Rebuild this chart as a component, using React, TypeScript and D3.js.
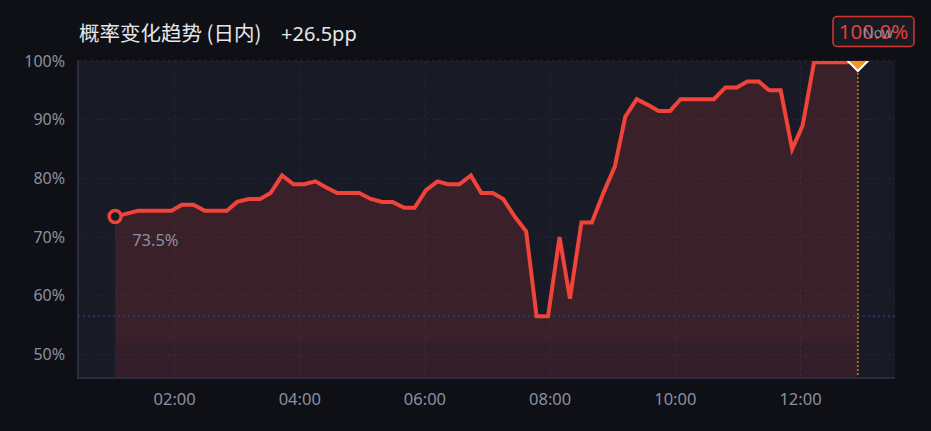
import React from 'react';
import * as d3 from 'd3';

// intraday samples
const times = [
  '01:03', '01:14', '01:25', '01:35', '01:46', '01:57', '02:07', '02:18', '02:29', '02:39',
  '02:50', '03:00', '03:11', '03:22', '03:32', '03:43', '03:54', '04:04', '04:15', '04:25',
  '04:36', '04:47', '04:57', '05:08', '05:19', '05:29', '05:40', '05:50', '06:01', '06:12',
  '06:22', '06:33', '06:44', '06:54', '07:05', '07:15', '07:26', '07:37', '07:47', '07:58',
  '08:09', '08:19', '08:30', '08:40', '08:51', '09:02', '09:12', '09:23', '09:34', '09:44',
  '09:55', '10:05', '10:16', '10:27', '10:37', '10:48', '10:59', '11:09', '11:20', '11:30',
  '11:41', '11:52', '12:02', '12:13', '12:24', '12:34', '12:45', '12:55',
];
const probs = [
  73.5, 74.0, 74.5, 74.5, 74.5, 74.5, 75.5, 75.5, 74.5, 74.5,
  74.5, 76.0, 76.5, 76.5, 77.5, 80.5, 79.0, 79.0, 79.5, 78.5,
  77.5, 77.5, 77.5, 76.5, 76.0, 76.0, 75.0, 75.0, 78.0, 79.5,
  79.0, 79.0, 80.5, 77.5, 77.5, 76.5, 73.5, 71.0, 56.5, 56.5,
  70.0, 59.5, 72.5, 72.5, 77.5, 82.0, 90.5, 93.5, 92.5, 91.5,
  91.5, 93.5, 93.5, 93.5, 93.5, 95.5, 95.5, 96.5, 96.5, 95.0,
  95.0, 85.0, 89.0, 99.8, 99.8, 99.8, 99.8, 100.0,
];
const xTickLabels = ['02:00', '04:00', '06:00', '08:00', '10:00', '12:00'];
const yTicks = [50, 60, 70, 80, 90, 100];
const yFloor = 46;
const bandFloor = 52;
const title = '概率变化趋势 (日内)';
const nowLabel = 'Now';

const W = 931;
const H = 431;
const margin = { top: 61, right: 36, bottom: 53, left: 78 };
const font = "'Noto Sans', 'Noto Sans CJK SC', sans-serif";

const toMin = (s: string) => {
  const [h, m] = s.split(':').map(Number);
  return h * 60 + m;
};

export default function App() {
  const data = times.map((t, i) => ({ t: toMin(t), v: probs[i] }));
  const t0 = data[0].t;
  const t1 = data[data.length - 1].t;
  const pad = (t1 - t0) * 0.05;

  const x = d3.scaleLinear()
    .domain([t0 - pad, t1 + pad])
    .range([margin.left, W - margin.right]);
  const y = d3.scaleLinear()
    .domain([yFloor, 100])
    .range([H - margin.bottom, margin.top]);

  const line = d3.line<{ t: number; v: number }>().x(d => x(d.t)).y(d => y(d.v));
  const area = d3.area<{ t: number; v: number }>().x(d => x(d.t)).y0(y(yFloor)).y1(d => y(d.v));
  const band = d3.area<{ t: number; v: number }>().x(d => x(d.t)).y0(y(bandFloor)).y1(d => y(d.v));

  const first = data[0];
  const last = data[data.length - 1];
  const minV = d3.min(probs) as number;
  const change = last.v - first.v;

  const px0 = margin.left;
  const px1 = W - margin.right;
  const py0 = margin.top;
  const py1 = H - margin.bottom;

  const diamond = d3.symbol(d3.symbolSquare, 200)();

  return (
    <div style={{ position: 'fixed', left: 0, top: 0, width: W, height: H, background: '#0f1015' }}>
      <svg width={W} height={H} style={{ display: 'block' }} fontFamily={font}>
        <defs>
          <clipPath id="plot">
            <rect x={px0} y={py0} width={px1 - px0} height={py1 - py0} />
          </clipPath>
        </defs>

        <text x={79} y={41} fill="#e6e7ea" fontSize={20.5} fontFamily="'Noto Sans CJK SC', sans-serif">
          {title}
        </text>
        <text x={281} y={41} fill="#e6e7ea" fontSize={20}>
          {`${change >= 0 ? '+' : ''}${change.toFixed(1)}pp`}
        </text>

        <rect x={px0} y={py0} width={px1 - px0} height={py1 - py0} fill="#181a26" />

        {/* grid */}
        {yTicks.map(v => (
          <line key={v} x1={px0} x2={px1} y1={y(v)} y2={y(v)}
            stroke={v === 100 ? '#3d2731' : '#24263a'} strokeDasharray="3,3" strokeWidth={1} />
        ))}
        {xTickLabels.map(l => (
          <line key={l} x1={x(toMin(l))} x2={x(toMin(l))} y1={py0} y2={py1}
            stroke="#24263a" strokeDasharray="3,3" strokeWidth={1} />
        ))}

        <g clipPath="url(#plot)">
          <path d={area(data) as string} fill="#f0443a" fillOpacity={0.13} />
          <path d={band(data) as string} fill="#f0443a" fillOpacity={0.04} />
          <line x1={px0} x2={px1} y1={y(minV)} y2={y(minV)}
            stroke="#2f3b6b" strokeWidth={1.5} strokeDasharray="2,3" />
          <line x1={x(last.t)} x2={x(last.t)} y1={py0} y2={py1}
            stroke="#d9780f" strokeWidth={1.5} strokeDasharray="2,2" />
          <path d={line(data) as string} fill="none" stroke="#f0443a" strokeWidth={4} />
          <path d={diamond as string} transform={`translate(${x(last.t)},${y(last.v)}) rotate(45)`}
            fill="#f7941d" stroke="#ffffff" strokeWidth={2} />
        </g>

        {/* axes */}
        <line x1={px0} x2={px0} y1={py0} y2={py1} stroke="#2a2d3f" strokeWidth={2} />
        <line x1={px0 - 1} x2={px1} y1={py1} y2={py1} stroke="#2a2d3f" strokeWidth={2} />

        {yTicks.map(v => (
          <text key={v} x={65} y={y(v)} dy="0.35em" textAnchor="end" fill="#8b8fa1" fontSize={16}>
            {`${v}%`}
          </text>
        ))}
        {xTickLabels.map(l => (
          <text key={l} x={x(toMin(l))} y={405} textAnchor="middle" fill="#8b8fa1" fontSize={16.5}>
            {l}
          </text>
        ))}

        {/* start marker */}
        <circle cx={x(first.t)} cy={y(first.v)} r={6} fill="#181a26" stroke="#f0443a" strokeWidth={3.5} />
        <text x={x(first.t) + 17} y={y(first.v) + 29} fill="#8b8fa1" fontSize={16.5}>
          {`${first.v.toFixed(1)}%`}
        </text>

        {/* current value badge */}
        <rect x={833} y={16.5} width={81} height={30} rx={4} fill="#181a24" stroke="#d2382f" strokeWidth={1.5} />
        <text x={873.5} y={38.5} textAnchor="middle" fill="#e3413a" fontSize={20.5}>
          {`${last.v.toFixed(1)}%`}
        </text>
        <text x={878} y={38} textAnchor="middle" fill="#8b8fa1" fontSize={14}>
          {nowLabel}
        </text>
      </svg>
    </div>
  );
}
